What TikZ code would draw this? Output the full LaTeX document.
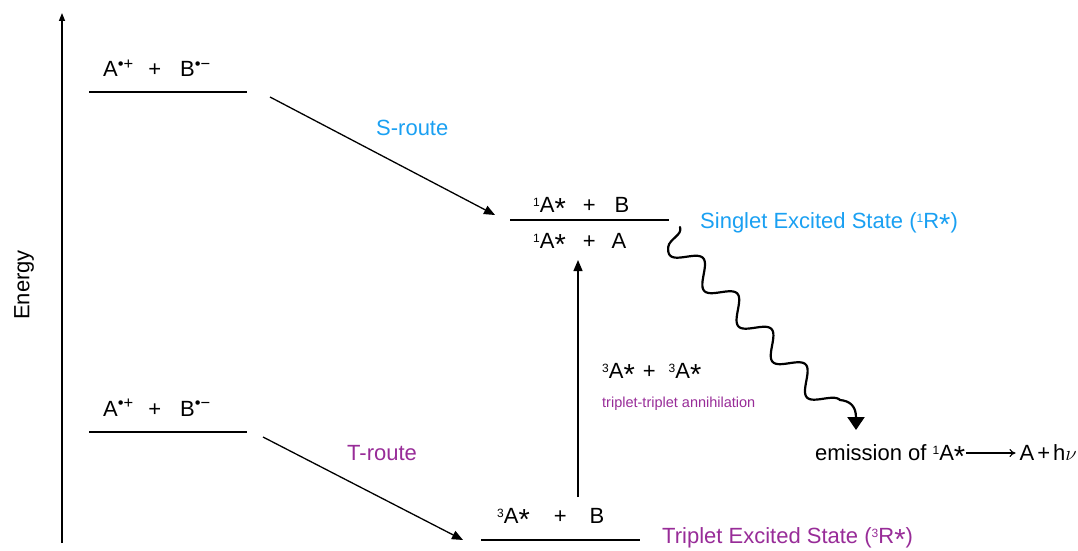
\documentclass[tikz,border=0pt]{standalone}
\usepackage{fontspec}
\setmainfont{Liberation Sans}
\usetikzlibrary{arrows.meta}
\definecolor{sblue}{HTML}{1AA0F2}
\definecolor{tpurple}{HTML}{982C98}
\tikzset{
  txt/.style={font=\fontsize{22}{26}\selectfont, inner sep=0pt, anchor=base west},
  smalltxt/.style={font=\fontsize{14.5}{17}\selectfont, inner sep=0pt, anchor=base west},
  levelline/.style={line width=1.4pt},
  arr/.style={line width=1.3pt, -{Triangle[length=11pt,width=9pt]}},
  wave/.style={line width=2.2pt, line cap=round, line join=round, -{Triangle[length=13pt,width=17pt]}},
}
\newcommand{\sps}[1]{\raisebox{6pt}{\fontsize{12}{12}\selectfont #1}}
\newcommand{\chg}[1]{\raisebox{7.5pt}{\fontsize{16.5}{16.5}\selectfont #1}}
\newcommand{\astk}{\raisebox{-6pt}[15pt][0pt]{\fontsize{29}{29}\selectfont *}}
\begin{document}
\begin{tikzpicture}[x=1pt,y=-1pt]
\useasboundingbox (0,0) rectangle (1078,551);

% energy axis
\coordinate (ax0) at (62,543);
\coordinate (ax1) at (62,13);
\draw[line width=1.4pt, -{Triangle[length=8pt,width=6pt]}] (ax0) -- (ax1);
\node[font=\fontsize{22}{26}\selectfont, rotate=90, inner sep=0pt] (energy) at (24,285) {Energy};

% top-left level
\coordinate (tl0) at (89,92);
\coordinate (tl1) at (247,92);
\draw[levelline] (tl0) -- (tl1);
\node[txt] (ionT) at (103,77) {A\chg{•+}\hspace{15pt}+\hspace{19pt}B\chg{•−}};

% bottom-left level
\coordinate (bl0) at (89,432);
\coordinate (bl1) at (247,432);
\draw[levelline] (bl0) -- (bl1);
\node[txt] (ionB) at (103,416) {A\chg{•+}\hspace{15pt}+\hspace{19pt}B\chg{•−}};

% singlet level
\coordinate (s0) at (510,220);
\coordinate (s1) at (669,220);
\draw[levelline] (s0) -- (s1);
\node[txt] (sUp) at (533,212) {\sps{1}A\astk\hspace{17pt}+\hspace{19pt}B};
\node[txt] (sDn) at (533,248) {\sps{1}A\astk\hspace{17pt}+\hspace{16pt}A};
\node[txt, text=sblue] (sLab) at (700,228) {Singlet Excited State (\sps{1}R\astk)};

% triplet level
\coordinate (t0) at (481,540);
\coordinate (t1) at (640,540);
\draw[levelline] (t0) -- (t1);
\node[txt] (tUp) at (497,523) {\sps{3}A\astk\hspace{24pt}+\hspace{23pt}B};
\node[txt, text=tpurple] (tLab) at (662,543) {Triplet Excited State (\sps{3}R\astk)};

% routes
\coordinate (sa) at (270,97);
\coordinate (sb) at (495,215);
\draw[arr] (sa) -- (sb);
\node[txt, text=sblue] (sroute) at (376,135) {S-route};

\coordinate (ta) at (263,437);
\coordinate (tb) at (463,540);
\draw[arr] (ta) -- (tb);
\node[txt, text=tpurple] (troute) at (347,460) {T-route};

% TTA
\coordinate (va) at (578,497);
\coordinate (vb) at (578,260);
\draw[arr] (va) -- (vb);
\node[txt] (tta) at (602,378) {\sps{3}A\astk\hspace{8pt}+\hspace{13pt}\sps{3}A\astk};
\node[smalltxt, text=tpurple] (ttaLab) at (602,407) {triplet-triplet annihilation};

% emission wave
\coordinate (ws) at (680,227);
\coordinate (wc1) at (683,235);
\coordinate (wc2) at (669,239);
\coordinate (wp) at (668.2,247.1);
\coordinate (hc1) at (850,401);
\coordinate (hc2) at (856,406);
\coordinate (w3) at (856,430);
\draw[wave] (ws) .. controls (wc1) and (wc2) .. (wp)
   -- plot[domain=-32:197.2, samples=180, variable=\s]
   ({695.1+0.694*\s+7.92*cos(7.302*\s)}, {265.6+0.72*\s-7.63*cos(7.302*\s)})
   .. controls (hc1) and (hc2) .. (w3);

\node[txt] (em) at (815,460) {emission of \sps{1}A\astk};
\node[txt, anchor=base east] (prod) at (1077,460) {A\hspace{3pt}+\hspace{3pt}h$\nu$};
\draw[line width=1.1pt, -{To[length=6pt,width=8pt]}] ([xshift=1pt,yshift=7pt]em.base east) -- ([xshift=-4pt,yshift=7pt]prod.base west);
\end{tikzpicture}
\end{document}
